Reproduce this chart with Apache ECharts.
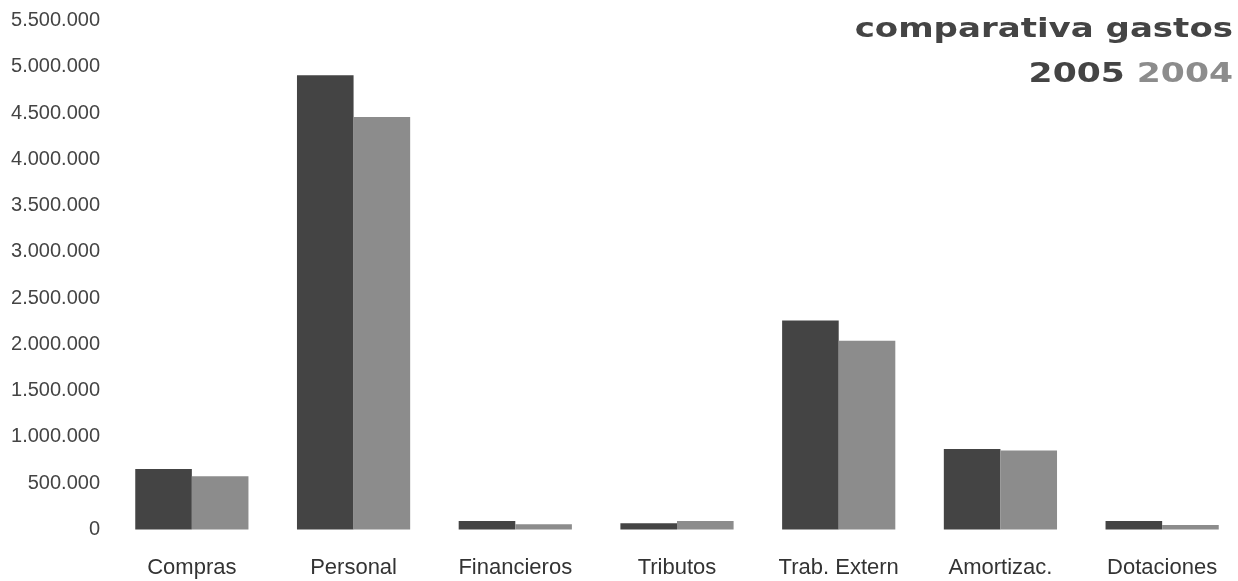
<!DOCTYPE html>
<html>
<head>
<meta charset="utf-8">
<title>comparativa gastos 2005 2004</title>
<script src="https://cdn.jsdelivr.net/npm/echarts@6/dist/echarts.min.js"></script>
<style>
  html, body { margin: 0; padding: 0; background: #ffffff; }
  #chart { width: 1238px; height: 581px; }
</style>
</head>
<body>
<div id="chart"></div>
<script>
// Expense categories and yearly totals (euros)
const categories = ['Compras', 'Personal', 'Financieros', 'Tributos', 'Trab. Extern', 'Amortizac.', 'Dotaciones'];
const gastos2005 = [655000, 4908000, 92000, 67000, 2257000, 871000, 92000];
const gastos2004 = [576000, 4457000, 56000, 92000, 2040000, 853000, 49000];
const years = ['2005', '2004'];

const yMax = 5500000;
const yStep = 500000;

const darkGrey = '#444444';
const lightGrey = '#8c8c8c';

// Spanish-style thousands separator: 1.500.000
function thousands(v) {
  return String(Math.round(v)).replace(/\B(?=(\d{3})+(?!\d))/g, '.');
}

const chart = echarts.init(document.getElementById('chart'));

const titleFont = { fontFamily: 'DejaVu Sans, sans-serif', fontWeight: 'bold', fontSize: 27 };

chart.setOption({
  backgroundColor: '#ffffff',
  animation: false,
  grid: {
    left: 111, width: 1132, top: 20.5, bottom: 51.5,
    containLabel: false,
    outerBoundsMode: 'none'
  },
  xAxis: {
    type: 'category',
    data: categories,
    axisLine: { show: false },
    axisTick: { show: false },
    axisLabel: {
      margin: 27,
      color: '#333333',
      fontFamily: 'Liberation Sans, Arial, sans-serif',
      fontSize: 22
    }
  },
  yAxis: {
    type: 'value',
    min: 0,
    max: yMax,
    interval: yStep,
    axisLine: { show: false },
    axisTick: { show: false },
    splitLine: { show: false },
    axisLabel: {
      margin: 11,
      color: '#444444',
      fontFamily: 'Liberation Sans, Arial, sans-serif',
      fontSize: 20,
      formatter: thousands
    }
  },
  series: [
    {
      name: years[0],
      type: 'bar',
      data: gastos2005,
      barGap: '0%',
      barCategoryGap: '30%',
      itemStyle: { color: darkGrey }
    },
    {
      name: years[1],
      type: 'bar',
      data: gastos2004,
      barGap: '0%',
      barCategoryGap: '30%',
      itemStyle: { color: lightGrey }
    }
  ],
  graphic: [
    {
      type: 'text',
      x: 1233,
      y: 30,
      scaleX: 1.26,
      style: Object.assign({
        text: 'comparativa gastos',
        textAlign: 'right',
        textVerticalAlign: 'middle',
        fill: darkGrey
      }, titleFont)
    },
    {
      type: 'text',
      x: 1233,
      y: 75,
      scaleX: 1.28,
      style: Object.assign({
        text: '{a|' + years[0] + '} {b|' + years[1] + '}',
        textAlign: 'right',
        textVerticalAlign: 'middle',
        fill: darkGrey,
        rich: {
          a: Object.assign({ fill: darkGrey }, titleFont),
          b: Object.assign({ fill: lightGrey }, titleFont)
        }
      }, titleFont)
    }
  ]
});
</script>
</body>
</html>
